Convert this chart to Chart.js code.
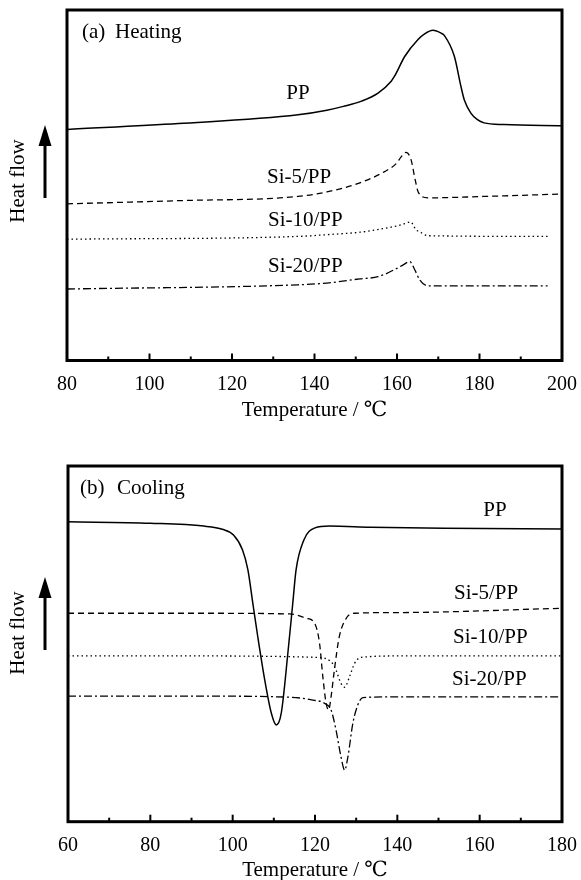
<!DOCTYPE html>
<html>
<head>
<meta charset="utf-8">
<title>DSC heating and cooling curves</title>
<script src="https://cdn.jsdelivr.net/npm/chart.js@4.4.1/dist/chart.umd.min.js"></script>
<style>
    html, body { margin: 0; padding: 0; background: #ffffff; overflow: hidden; }
    #wrap { position: relative; width: 581px; height: 880px; overflow: hidden; }
    canvas { position: absolute; left: 0; }
    #heatChart { top: 0; }
    #coolChart { top: 440px; }
</style>
</head>
<body>
<div id="wrap">
    <canvas id="heatChart" width="581" height="440"></canvas>
    <canvas id="coolChart" width="581" height="460"></canvas>
</div>
<script>
/* ===============================
   DATA (heat flow, arbitrary units)
=============================== */

const seriesNames = ["PP", "Si-5/PP", "Si-10/PP", "Si-20/PP"];

const heatTicks = [80, 100, 120, 140, 160, 180, 200];
const coolTicks = [60, 80, 100, 120, 140, 160, 180];

// (a) heating
const heatPP_T = [80, 107, 136, 143, 147, 151.4, 155.4, 158.6, 159.4, 161.9, 165.1, 166.7, 168.7, 170.7, 171.5, 173.9, 175.5, 176.3, 177.9, 179.5, 181.1, 186, 200];
const heatPP_Y = [65.9, 67.6, 70.1, 71.4, 72.5, 74.0, 76.3, 79.7, 81.1, 86.8, 91.6, 93.2, 94.2, 93.4, 92.7, 86.8, 78.2, 74.4, 70.6, 68.7, 67.8, 67.3, 67.0];

const heatSi5_T = [80, 107, 136, 143, 151, 157, 160, 161, 162.2, 163.4, 164.4, 165.2, 167.5, 181, 200];
const heatSi5_Y = [44.7, 45.6, 46.8, 48.1, 50.7, 53.9, 56.4, 58.1, 59.4, 57.3, 51.6, 47.9, 46.4, 46.8, 47.5];

const heatSi10_T = [80, 136, 143, 151, 155, 160, 161, 163.3, 164.6, 165.5, 167.5, 196.5];
const heatSi10_Y = [34.6, 35.4, 35.9, 36.6, 37.3, 38.4, 38.7, 39.5, 37.3, 36.7, 35.6, 35.4];

const heatSi20_T = [80, 136, 143, 151, 155.4, 160, 161.5, 163.1, 164.3, 165.5, 167.5, 196.5];
const heatSi20_Y = [20.4, 21.6, 22.1, 23.3, 23.9, 26.3, 27.3, 28.2, 25.9, 23.0, 21.3, 21.3];

// (b) cooling
const coolPP_T = [60, 80, 93, 97.5, 100.2, 102.4, 103.7, 104.9, 106.1, 107.8, 109.4, 110.6, 111.8, 113.4, 114.6, 115.4, 117.3, 120, 123.5, 133.5, 151.4, 180];
const coolPP_Y = [84.3, 83.9, 83.1, 82.2, 80.6, 76.4, 70.8, 61.4, 52.0, 39.8, 30.5, 27.2, 30.5, 47.3, 61.4, 70.8, 79.2, 82.6, 83.1, 82.8, 82.5, 82.3];

const coolSi5_T = [60, 92, 113.8, 117.9, 119.9, 121.1, 121.9, 122.7, 123.3, 123.9, 124.7, 125.9, 127.6, 129.6, 140.5, 180];
const coolSi5_Y = [58.6, 58.6, 58.4, 57.2, 55.8, 50.2, 40.8, 33.3, 31.4, 35.1, 42.6, 52.0, 57.2, 58.6, 58.8, 60.0];

const coolSi10_T = [60, 92, 120.3, 123.9, 125.1, 126.3, 127.2, 128.4, 129.6, 131.2, 140.5, 180];
const coolSi10_Y = [46.6, 46.6, 46.2, 45.0, 42.6, 38.9, 37.8, 40.8, 44.5, 46.2, 46.6, 46.6];

const coolSi20_T = [60, 92, 113.8, 119.5, 122.3, 123.9, 125.1, 126.3, 127.2, 128, 129.2, 130.4, 131.6, 140.5, 180];
const coolSi20_Y = [35.3, 35.3, 35.0, 34.2, 33.3, 31.4, 25.8, 18.3, 14.5, 18.3, 27.7, 32.8, 34.9, 35.1, 35.1];

/* ===============================
   STYLE
=============================== */

const FONT = "'Liberation Serif', 'DejaVu Serif', 'Times New Roman', serif";

const lineStyles = [
    { dash: [], width: 1.5 },
    { dash: [6, 4], width: 1.3 },
    { dash: [1.5, 3], width: 1.3 },
    { dash: [8, 3, 2, 3], width: 1.3 }
];

/* ===============================
   FRAME, TICKS, LABELS PLUGIN
=============================== */

const panelDecor = {

    id: "panelDecor",

    afterDraw(chart, args, o) {

        const ctx = chart.ctx;
        const a = chart.chartArea;
        const xs = chart.scales.x;

        ctx.save();

        // box
        ctx.strokeStyle = "#000";
        ctx.lineWidth = 3;
        ctx.strokeRect(a.left, a.top, a.right - a.left, a.bottom - a.top);

        // inward ticks, long on labelled values
        ctx.lineWidth = 2;
        xs.ticks.forEach(t => {
            const px = xs.getPixelForValue(t.value);
            const len = o.major.includes(t.value) ? 7 : 4;
            ctx.beginPath();
            ctx.moveTo(px, a.bottom);
            ctx.lineTo(px, a.bottom - len);
            ctx.stroke();
        });

        // panel tag and curve names
        ctx.fillStyle = "#000";
        ctx.font = "21px " + FONT;
        ctx.textBaseline = "middle";
        o.texts.forEach(t => {
            ctx.textAlign = t.align || "left";
            ctx.fillText(t.text, t.x, t.y);
        });

        // heat flow arrow
        const ar = o.arrow;
        ctx.lineWidth = 3;
        ctx.beginPath();
        ctx.moveTo(ar.x, ar.tail);
        ctx.lineTo(ar.x, ar.tip + 16);
        ctx.stroke();
        ctx.beginPath();
        ctx.moveTo(ar.x, ar.tip);
        ctx.lineTo(ar.x - 6.5, ar.tip + 21);
        ctx.lineTo(ar.x + 6.5, ar.tip + 21);
        ctx.closePath();
        ctx.fill();

        // y title
        ctx.translate(o.yTitle.x, o.yTitle.y);
        ctx.rotate(-Math.PI / 2);
        ctx.textAlign = "center";
        ctx.fillText("Heat flow", 0, 0);

        ctx.restore();

    }

};

/* ===============================
   BUILD ONE PANEL
=============================== */

function makePanel(canvasId, series, ticks, pad, axisHeight, decor) {

    const datasets = series.map((s, i) => ({
        label: seriesNames[i],
        data: s[0].map((t, k) => ({ x: t, y: s[1][k] })),
        borderColor: "#000",
        borderWidth: lineStyles[i].width,
        borderDash: lineStyles[i].dash,
        pointRadius: 0,
        fill: false,
        cubicInterpolationMode: "monotone"
    }));

    return new Chart(document.getElementById(canvasId), {

        type: "line",

        data: { datasets: datasets },

        options: {
            responsive: false,
            animation: false,
            layout: { padding: pad },
            plugins: {
                legend: { display: false },
                tooltip: { enabled: false },
                panelDecor: decor
            },
            scales: {
                x: {
                    type: "linear",
                    min: ticks[0],
                    max: ticks[ticks.length - 1],
                    grid: { display: false },
                    border: { display: false },
                    ticks: {
                        stepSize: 10,
                        autoSkip: false,
                        maxRotation: 0,
                        padding: 4,
                        color: "#000",
                        font: { family: FONT, size: 20 },
                        callback: v => ticks.includes(v) ? v : ""
                    },
                    title: {
                        display: true,
                        text: "Temperature / \u2103",
                        color: "#000",
                        font: { family: FONT, size: 21 },
                        padding: { top: 0, bottom: 17 }
                    },
                    afterFit: scale => { scale.height = axisHeight; }
                },
                y: {
                    display: false,
                    min: 0,
                    max: 100
                }
            }
        },

        plugins: [panelDecor]

    });

}

/* ===============================
   PANELS
=============================== */

makePanel(
    "heatChart",
    [[heatPP_T, heatPP_Y], [heatSi5_T, heatSi5_Y], [heatSi10_T, heatSi10_Y], [heatSi20_T, heatSi20_Y]],
    heatTicks,
    { left: 67, right: 16, top: 10, bottom: 0 },
    79.5,
    {
        major: heatTicks,
        texts: [
            { text: "(a)", x: 82, y: 32 },
            { text: "Heating", x: 115, y: 32 },
            { text: seriesNames[0], x: 298, y: 93, align: "center" },
            { text: seriesNames[1], x: 267, y: 177 },
            { text: seriesNames[2], x: 268, y: 220 },
            { text: seriesNames[3], x: 268, y: 266 }
        ],
        arrow: { x: 45, tip: 125, tail: 198 },
        yTitle: { x: 18, y: 181 }
    }
);

makePanel(
    "coolChart",
    [[coolPP_T, coolPP_Y], [coolSi5_T, coolSi5_Y], [coolSi10_T, coolSi10_Y], [coolSi20_T, coolSi20_Y]],
    coolTicks,
    { left: 68, right: 18, top: 26, bottom: 0 },
    78.3,
    {
        major: coolTicks,
        texts: [
            { text: "(b)", x: 80, y: 48.5 },
            { text: "Cooling", x: 117, y: 48.5 },
            { text: seriesNames[0], x: 495, y: 70, align: "center" },
            { text: seriesNames[1], x: 454, y: 153 },
            { text: seriesNames[2], x: 453, y: 197 },
            { text: seriesNames[3], x: 452, y: 239 }
        ],
        arrow: { x: 45, tip: 137, tail: 210 },
        yTitle: { x: 18, y: 193 }
    }
);
</script>
</body>
</html>
